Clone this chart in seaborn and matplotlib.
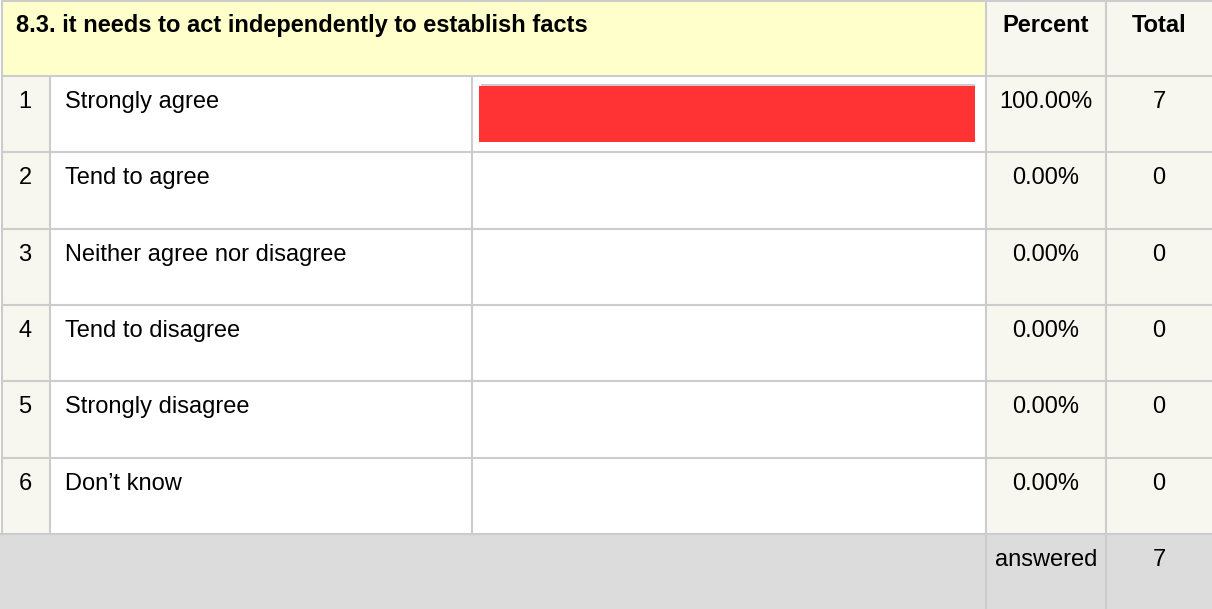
"""Survey question summary table with an inline percentage bar."""

import matplotlib

matplotlib.use("Agg")
import matplotlib.pyplot as plt
import pandas as pd
import seaborn as sns
from matplotlib.patches import Rectangle
from matplotlib.transforms import offset_copy

question = "8.3. it needs to act independently to establish facts"
row_numbers = [1, 2, 3, 4, 5, 6]
answer_labels = [
    "Strongly agree",
    "Tend to agree",
    "Neither agree nor disagree",
    "Tend to disagree",
    "Strongly disagree",
    "Don\u2019t know",
]
percents = [100.0, 0.0, 0.0, 0.0, 0.0, 0.0]
totals = [7, 0, 0, 0, 0, 0]
answered_total = 7

W, H = 1212, 609
YELLOW = "#ffffcc"
OFFWHITE = "#f7f7f0"
GRAY = "#dcdcdc"
LINE = "#cccccc"
RED = "#ff3333"

# pixel layout of the table
col_x = [2, 50, 472, 986, 1106, W]
row_y = [1, 76, 152, 229, 305, 381, 458, 534, H]

sns.set_theme(style="white")
plt.rcParams["font.family"] = ["Liberation Sans", "DejaVu Sans"]
plt.rcParams["text.color"] = "black"

fig = plt.figure(figsize=(W / 100, H / 100), dpi=100)
ax = fig.add_axes([0, 0, 1, 1])
ax.set_xlim(0, W)
ax.set_ylim(H, 0)
ax.set_axis_off()


def cell(x0, x1, y0, y1, color):
    ax.add_patch(Rectangle((x0, y0), x1 - x0, y1 - y0, facecolor=color, edgecolor="none", zorder=0))


# backgrounds
cell(0, W, 0, H, "white")
cell(col_x[0], col_x[3], row_y[0], row_y[1], YELLOW)
cell(col_x[3], W, row_y[0], row_y[-2], OFFWHITE)
cell(col_x[0], col_x[1], row_y[1], row_y[-2], OFFWHITE)
cell(0, W, row_y[-2], H, GRAY)

# grid lines
lw = 1.5
for y in row_y[:-1]:
    ax.plot([0 if y == row_y[-2] else col_x[0], W], [y, y], color=LINE, lw=lw, zorder=1)
ax.plot([col_x[0], col_x[0]], [row_y[0], row_y[-2]], color=LINE, lw=lw, zorder=1)
for x in col_x[1:3]:
    ax.plot([x, x], [row_y[1], row_y[-2]], color=LINE, lw=lw, zorder=1)
for x in col_x[3:5]:
    ax.plot([x, x], [row_y[0], H], color=LINE, lw=lw, zorder=1)

fs = 17
pct_cx = 1046
tot_cx = 1159
base = 32  # text baseline below the top of each row
ax.text(16, row_y[0] + base - 1, question, fontsize=fs, fontweight="bold", va="baseline", ha="left")
ax.text(pct_cx, row_y[0] + base - 1, "Percent", fontsize=fs, fontweight="bold", va="baseline", ha="center")
ax.text(tot_cx, row_y[0] + base - 1, "Total", fontsize=fs, fontweight="bold", va="baseline", ha="center")

for i, (num, label, pct, tot) in enumerate(zip(row_numbers, answer_labels, percents, totals)):
    ty = row_y[i + 1] + base
    ax.text(25, ty, str(num), fontsize=fs, va="baseline", ha="center")
    ax.text(65, ty, label, fontsize=fs, va="baseline", ha="left")
    ax.text(pct_cx, ty, f"{pct:.2f}%", fontsize=fs, va="baseline", ha="center")
    ax.text(tot_cx, ty, str(tot), fontsize=fs, va="baseline", ha="center")

ay = row_y[-2] + base
ax.text(pct_cx, ay, "answered", fontsize=fs, va="baseline", ha="center")
ax.text(tot_cx, ay, str(answered_total), fontsize=fs, va="baseline", ha="center")

# bar column: an axes spanning rows 1-6, x from 0 to 100 %
bar_left, bar_right = 479, 975
bax = fig.add_axes([
    bar_left / W,
    1 - row_y[-2] / H,
    (bar_right - bar_left) / W,
    (row_y[-2] - row_y[1]) / H,
])
df = pd.DataFrame({"answer": answer_labels, "percent": percents})
sns.barplot(
    data=df, x="percent", y="answer", orient="h", color=RED, saturation=1,
    width=0.73, linewidth=0, ax=bax,
)
# thin grey shadow offset up-right behind each non-empty bar
shadow_tr = offset_copy(bax.transData, fig=fig, x=2, y=2, units="dots")
for p in list(bax.patches):
    if p.get_width() > 0:
        bax.add_patch(Rectangle(
            p.get_xy(), p.get_width(), p.get_height(), transform=shadow_tr,
            facecolor=LINE, edgecolor="none", zorder=p.get_zorder() - 0.5,
        ))
bax.set_xlim(0, 100)
bax.set_ylim(len(answer_labels) - 0.5, -0.5)
bax.set_axis_off()
bax.patch.set_alpha(0)

fig.savefig("out.png", dpi=100)
